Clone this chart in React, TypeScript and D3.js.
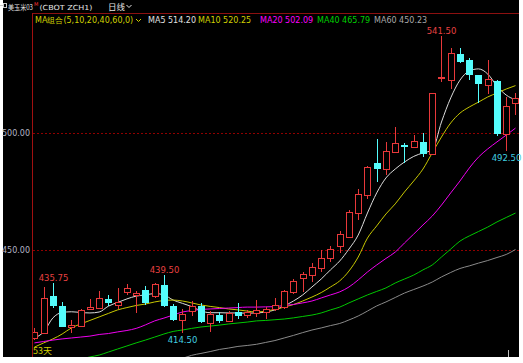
import React from "react";
import * as d3 from "d3";

// ---- data ----
const opens = [412.5, 414.4, 430.3, 426.2, 417.3, 417.7, 424.7, 425.1, 428.9, 426.5, 432.2, 430.8, 432.9, 430.2, 435.0, 426.1, 420.1, 424.0, 426.1, 419.0, 422.2, 419.8, 423.7, 422.2, 423.0, 423.4, 424.8, 425.8, 431.9, 437.9, 439.3, 442.2, 446.5, 451.8, 455.7, 465.9, 473.5, 487.1, 484.5, 492.0, 495.0, 494.2, 496.3, 491.0, 523.4, 522.6, 533.8, 531.2, 524.8, 520.5, 522.2, 499.4, 512.7];
const highs = [416.7, 434.2, 435.75, 427.9, 420.1, 424.8, 428.9, 432.6, 430.8, 433.6, 435.5, 432.3, 434.6, 436.0, 439.5, 427.0, 424.7, 428.0, 427.2, 424.0, 423.5, 423.8, 427.2, 424.5, 428.6, 425.5, 429.4, 433.0, 437.5, 440.7, 444.3, 450.0, 451.7, 458.0, 467.1, 475.9, 486.0, 497.4, 496.3, 502.7, 495.6, 499.1, 500.1, 517.0, 541.5, 536.2, 536.2, 531.9, 525.0, 531.2, 522.6, 515.5, 517.0];
const lows = [411.5, 414.0, 425.2, 417.0, 414.4, 417.5, 424.4, 424.8, 426.1, 424.7, 430.8, 423.2, 426.5, 429.5, 425.5, 419.8, 414.5, 422.0, 418.8, 415.1, 419.0, 419.3, 420.4, 421.0, 421.5, 420.4, 424.0, 425.0, 431.0, 432.2, 436.5, 440.7, 445.0, 448.6, 455.0, 462.8, 472.0, 479.2, 482.0, 491.3, 487.1, 493.5, 489.9, 490.6, 522.0, 518.8, 529.8, 522.6, 512.7, 516.5, 498.9, 492.5, 507.7];
const closes = [415.1, 429.4, 426.1, 417.3, 418.0, 424.4, 425.5, 429.4, 427.2, 427.7, 433.6, 431.8, 427.2, 435.3, 426.1, 420.1, 422.5, 426.1, 419.4, 422.5, 419.8, 423.2, 422.0, 423.7, 424.4, 424.8, 426.5, 432.5, 436.9, 439.7, 442.6, 446.7, 450.3, 456.8, 466.1, 473.9, 485.3, 484.5, 492.4, 495.6, 494.3, 496.7, 491.0, 517.0, 524.1, 534.1, 530.5, 524.8, 520.8, 523.1, 499.6, 511.5, 514.8];

const ma5 = [412.4, 415.0, 421.0, 423.3, 423.6, 423.3, 423.1, 423.5, 426.0, 427.6, 429.1, 430.3, 430.8, 431.4, 430.8, 428.6, 427.2, 425.8, 424.0, 423.2, 423.2, 423.1, 423.1, 423.0, 423.1, 423.5, 424.4, 426.1, 428.2, 430.8, 434.2, 437.6, 441.5, 445.3, 450.4, 456.4, 465.8, 474.4, 480.8, 484.6, 487.6, 490.0, 491.5, 492.7, 504.7, 515.0, 522.6, 526.5, 527.4, 525.2, 520.1, 516.2, 514.2];
const ma10 = [408.5, 410.3, 412.0, 414.1, 416.7, 418.4, 419.9, 421.4, 422.9, 424.4, 425.4, 426.3, 426.9, 427.8, 428.4, 428.6, 428.2, 427.4, 426.5, 425.9, 425.4, 424.8, 424.4, 423.9, 423.5, 423.9, 424.6, 425.6, 426.7, 428.2, 429.9, 431.8, 434.2, 436.8, 441.0, 447.0, 455.1, 460.3, 465.4, 469.7, 474.8, 479.5, 484.6, 491.5, 498.3, 504.3, 508.5, 511.1, 513.2, 515.4, 517.1, 518.8, 520.25];
const ma20 = [410.3, 410.9, 411.5, 412.0, 412.4, 412.8, 413.2, 413.9, 414.3, 415.0, 415.6, 416.5, 418.0, 419.7, 420.9, 422.2, 423.5, 424.1, 424.6, 424.8, 425.0, 425.2, 425.4, 425.6, 425.6, 425.7, 425.8, 426.3, 426.7, 427.4, 428.2, 429.5, 430.8, 432.1, 434.2, 437.2, 440.6, 443.6, 446.4, 449.1, 453.0, 456.8, 460.7, 464.5, 469.2, 474.4, 479.5, 485.0, 489.7, 493.2, 496.2, 499.1, 502.09];
const ma40 = [397.2, 398.4, 399.9, 401.2, 402.6, 403.4, 404.3, 405.1, 406.4, 407.7, 409.0, 410.3, 411.5, 412.8, 414.1, 415.2, 415.8, 416.5, 417.1, 417.5, 417.9, 418.4, 418.8, 419.2, 419.7, 419.9, 420.2, 420.5, 421.0, 421.6, 422.2, 423.1, 424.4, 425.6, 427.4, 429.1, 430.8, 432.3, 433.8, 435.9, 437.6, 439.3, 441.5, 443.6, 447.0, 450.4, 453.8, 456.0, 457.9, 459.8, 462.0, 463.9, 465.79];
const ma60 = [394.1, 394.8, 395.3, 395.9, 396.3, 397.1, 397.6, 398.3, 398.8, 399.5, 400.0, 400.7, 401.2, 401.9, 402.4, 403.1, 403.7, 405.0, 405.8, 406.6, 407.5, 408.1, 408.8, 409.2, 409.7, 410.5, 411.3, 412.4, 413.5, 414.7, 415.8, 416.7, 417.7, 418.6, 420.1, 421.8, 423.9, 426.1, 427.8, 429.7, 431.6, 433.1, 434.6, 436.3, 438.5, 440.4, 442.1, 443.2, 444.4, 445.5, 446.8, 448.1, 450.23];

const maNames = ["MA5", "MA10", "MA20", "MA40", "MA60"];
const maLegendValues = ["514.20", "520.25", "502.09", "465.79", "450.23"];
const yTicks = [500, 450];
const highMarks = [2, 14, 44];
const lowMarks = [16, 51];
const dayCountLabel = "53天";
const titleName = "美玉米03";
const titleSup = "M";
const titleCode = "(CBOT ZCH1)";
const titlePeriod = "日线";
const maGroupLabel = "MA组合(5,10,20,40,60,0)";

// ---- layout / style ----
const W = 523, H = 363;
const plot = { left: 32, right: 519, top: 13, bottom: 357 };
const UP = "#e8383a";
const DOWN = "#54fcfc";
const maColors = ["#dcdcdc", "#c8c800", "#f000f0", "#00c800", "#8a8a8a"];
const legendColors = ["#e0e0e0", "#d0d000", "#ff00ff", "#00d000", "#a8a8a8"];
const legendX = [148, 198, 260, 317, 374];
const FONT = "'DejaVu Sans', Verdana, sans-serif";
const CJK = "'Noto Sans CJK SC', sans-serif";

export default function App() {
  const idx = d3.range(closes.length);
  const x = d3.scaleBand<number>().domain(idx).range([31.4, 518.5]).paddingInner(0.35);
  const y = d3.scaleLinear().domain([450, 500]).range([250, 133]);
  const cx = (i: number) => Math.round((x(i) as number) + x.bandwidth() / 2);
  const mas = [ma5, ma10, ma20, ma40, ma60];
  const line = (arr: number[]) =>
    d3.line<number>().x((_, i) => (x(i) as number) + x.bandwidth() / 2).y((v) => y(v)).curve(d3.curveMonotoneX)(arr) || "";

  return (
    <svg width={W} height={H} style={{ position: "absolute", left: 0, top: 0, background: "#fff" }}>
      <defs>
        <clipPath id="plotclip">
          <rect x={plot.left + 1} y={plot.top + 1} width={plot.right - plot.left - 1} height={plot.bottom - plot.top - 1} />
        </clipPath>
      </defs>
      <rect x={3} y={0} width={plot.right - 3} height={plot.bottom} fill="#000" />

      {/* header */}
      <rect x={3.5} y={3.5} width={3} height={4} fill="none" stroke="#c8c8c8" strokeWidth={1} />
      <line x1={0} x2={3} y1={5.5} y2={5.5} stroke="#c8c8c8" />
      <text x={8} y={9.5} fill="#e6e6e6" fontSize={7} fontFamily={CJK} textLength={25} lengthAdjust="spacingAndGlyphs">{titleName}</text>
      <text x={34} y={5.5} fill="#ff3030" fontSize={5} fontFamily={FONT}>{titleSup}</text>
      <text x={39.5} y={9.5} fill="#e6e6e6" fontSize={7} fontFamily={FONT} textLength={53} lengthAdjust="spacingAndGlyphs">{titleCode}</text>
      <text x={108} y={9.5} fill="#e6e6e6" fontSize={8.5} fontFamily={CJK} textLength={17} lengthAdjust="spacingAndGlyphs">{titlePeriod}</text>
      <path d="M126.5,5 L129,7.5 L131.5,5" fill="none" stroke="#e6e6e6" strokeWidth={1} />

      {/* frame */}
      <line x1={plot.left} x2={plot.right} y1={plot.top + 0.5} y2={plot.top + 0.5} stroke="#8c1010" strokeWidth={1} />
      <line x1={plot.left + 0.5} x2={plot.left + 0.5} y1={plot.top} y2={plot.bottom} stroke="#a01010" strokeWidth={1} />

      {/* legend */}
      <text x={35} y={23} fill="#d0d000" fontSize={8} fontFamily={FONT}>{maGroupLabel}</text>
      <path d="M136,19 L138.5,21.5 L141,19" fill="none" stroke="#d0d000" strokeWidth={1} />
      {maNames.map((n, k) => (
        <text key={n} x={legendX[k]} y={23} fill={legendColors[k]} fontSize={8} fontFamily={FONT}>
          {n} {maLegendValues[k]}
        </text>
      ))}

      {/* y grid + labels */}
      {yTicks.map((t) => (
        <g key={t}>
          <line x1={plot.left + 1} x2={plot.right} y1={Math.round(y(t)) + 0.5} y2={Math.round(y(t)) + 0.5} stroke="#900000" strokeDasharray="2,2" />
          <text x={30} y={y(t) + 3} textAnchor="end" fill="#b4b4c4" fontSize={8} fontFamily={FONT}>{d3.format(".2f")(t)}</text>
        </g>
      ))}

      <g clipPath="url(#plotclip)">
        {/* moving averages */}
        {mas.map((arr, k) => (
          <path key={k} d={line(arr)} fill="none" stroke={maColors[k]} strokeWidth={1} />
        ))}
        {/* candles */}
        {idx.map((i) => {
          const o = opens[i], c = closes[i];
          const up = c >= o;
          const col = up ? UP : DOWN;
          const c0 = cx(i);
          const top = Math.round(y(Math.max(o, c)));
          const bot = Math.round(y(Math.min(o, c)));
          const hw = 3;
          const hy = Math.round(y(highs[i]));
          const ly = Math.round(y(lows[i]));
          return (
            <g key={i}>
              <line x1={c0 + 0.5} x2={c0 + 0.5} y1={hy} y2={top} stroke={col} />
              <line x1={c0 + 0.5} x2={c0 + 0.5} y1={Math.max(bot, top + 1)} y2={ly} stroke={col} />
              {up ? (
                <rect x={c0 - hw + 0.5} y={top + 0.5} width={hw * 2} height={Math.max(bot - top, 1)} fill="#000" stroke={col} strokeWidth={1} />
              ) : (
                <rect x={c0 - hw} y={top} width={hw * 2 + 1} height={Math.max(bot - top, 2)} fill={col} />
              )}
            </g>
          );
        })}
      </g>

      {/* high / low marks */}
      {highMarks.map((i) => (
        <text key={"h" + i} x={cx(i) + 0.5} y={y(highs[i]) - 2} textAnchor="middle" fill="#e84040" fontSize={8.5} fontFamily={FONT}>
          {d3.format(".2f")(highs[i])}
        </text>
      ))}
      {lowMarks.map((i) => (
        <text key={"l" + i} x={cx(i) + 0.5} y={y(lows[i]) + 10} textAnchor="middle" fill="#40d0e0" fontSize={8.5} fontFamily={FONT}>
          {d3.format(".2f")(lows[i])}
        </text>
      ))}

      <text x={33} y={354} fill="#d0d000" fontSize={9} fontFamily={CJK}>{dayCountLabel}</text>
      <line x1={508.5} x2={508.5} y1={350} y2={357} stroke="#c0c0c0" />
    </svg>
  );
}
